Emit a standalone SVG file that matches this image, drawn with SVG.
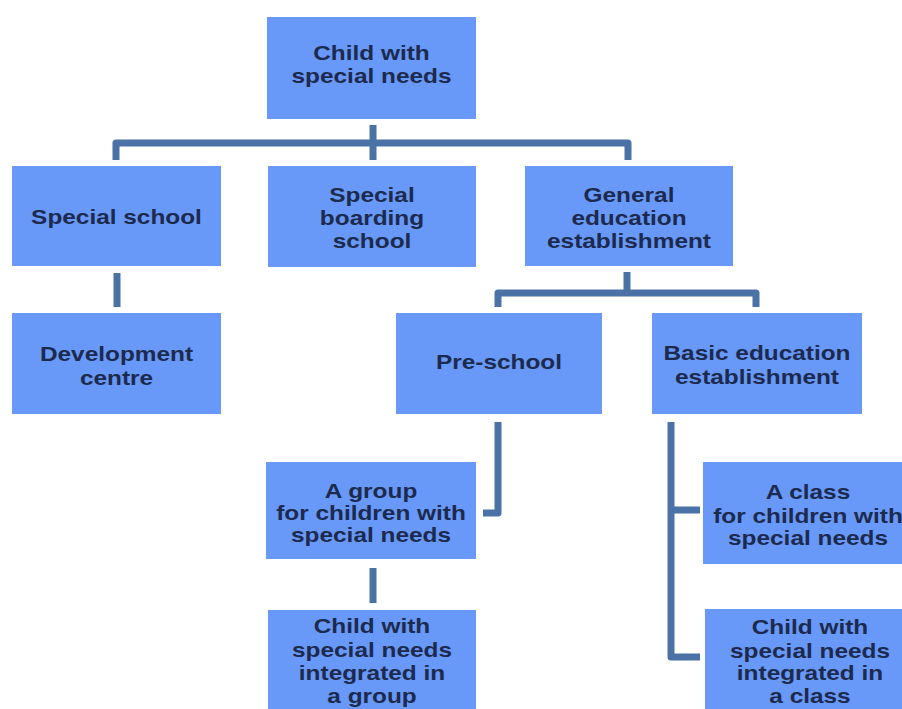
<svg xmlns="http://www.w3.org/2000/svg" width="902" height="709" viewBox="0 0 902 709">
<style>
.box{fill:#6898f8;}
.t{font-family:"Liberation Sans",Arial,sans-serif;font-size:20px;font-weight:bold;fill:#1c2a4e;text-anchor:middle;}
.c{fill:none;stroke:#4a72a6;stroke-width:7;stroke-linejoin:round;}
</style>
<rect width="902" height="709" fill="#ffffff"/>
<g id="connectors">
<path class="c" d="M373,125 V160 M116,160 V143 H628 V160"/>
<path class="c" d="M117,273 V307"/>
<path class="c" d="M627,272 V293 M498,307 V293 H756 V307"/>
<path class="c" d="M498,422 V513 H483"/>
<path class="c" d="M373,568 V603"/>
<path class="c" d="M671,422 V657 H700 M671,510 H700"/>
</g>
<g id="child">
<rect class="box" x="267" y="17" width="209" height="102"/>
<text class="t" transform="translate(371.5,0) scale(1.22,1)"><tspan x="0" y="60">Child with</tspan><tspan x="0" y="83">special needs</tspan></text>
</g>
<g id="special-school">
<rect class="box" x="12" y="166" width="209" height="100"/>
<text class="t" transform="translate(116.5,0) scale(1.22,1)"><tspan x="0" y="224">Special school</tspan></text>
</g>
<g id="boarding">
<rect class="box" x="268" y="166" width="208" height="101"/>
<text class="t" transform="translate(372,0) scale(1.22,1)"><tspan x="0" y="202">Special</tspan><tspan x="0" y="225">boarding</tspan><tspan x="0" y="248">school</tspan></text>
</g>
<g id="general">
<rect class="box" x="525" y="166" width="208" height="100"/>
<text class="t" transform="translate(629,0) scale(1.22,1)"><tspan x="0" y="202">General</tspan><tspan x="0" y="225">education</tspan><tspan x="0" y="248">establishment</tspan></text>
</g>
<g id="development">
<rect class="box" x="12" y="313" width="209" height="101"/>
<text class="t" transform="translate(116.5,0) scale(1.22,1)"><tspan x="0" y="361">Development</tspan><tspan x="0" y="385">centre</tspan></text>
</g>
<g id="preschool">
<rect class="box" x="396" y="313" width="206" height="101"/>
<text class="t" transform="translate(499,0) scale(1.22,1)"><tspan x="0" y="369">Pre-school</tspan></text>
</g>
<g id="basic">
<rect class="box" x="652" y="313" width="210" height="101"/>
<text class="t" transform="translate(757,0) scale(1.22,1)"><tspan x="0" y="360">Basic education</tspan><tspan x="0" y="384">establishment</tspan></text>
</g>
<g id="group">
<rect class="box" x="266" y="462" width="210" height="97"/>
<text class="t" transform="translate(371,0) scale(1.22,1)"><tspan x="0" y="498">A group</tspan><tspan x="0" y="520">for children with</tspan><tspan x="0" y="542">special needs</tspan></text>
</g>
<g id="child-group">
<rect class="box" x="268" y="610" width="208" height="110"/>
<text class="t" transform="translate(372,0) scale(1.22,1)"><tspan x="0" y="633">Child with</tspan><tspan x="0" y="657">special needs</tspan><tspan x="0" y="680">integrated in</tspan><tspan x="0" y="703">a group</tspan></text>
</g>
<g id="class">
<rect class="box" x="703" y="462" width="210" height="102"/>
<text class="t" transform="translate(808,0) scale(1.22,1)"><tspan x="0" y="499">A class</tspan><tspan x="0" y="523">for children with</tspan><tspan x="0" y="545">special needs</tspan></text>
</g>
<g id="child-class">
<rect class="box" x="705" y="609" width="210" height="110"/>
<text class="t" transform="translate(810,0) scale(1.22,1)"><tspan x="0" y="634">Child with</tspan><tspan x="0" y="658">special needs</tspan><tspan x="0" y="680">integrated in</tspan><tspan x="0" y="703">a class</tspan></text>
</g>
</svg>
